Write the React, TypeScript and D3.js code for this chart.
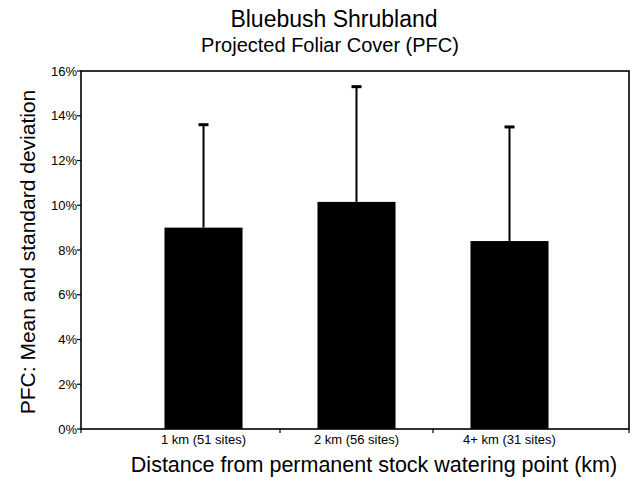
import React from "react";
import * as d3 from "d3";

const categories = ["1 km (51 sites)", "2 km (56 sites)", "4+ km (31 sites)"];
const means = [9.0, 10.15, 8.4];
const sds = [4.6, 5.15, 5.1];
const yTicks = [0, 2, 4, 6, 8, 10, 12, 14, 16];

const W = 635;
const H = 482;
const FONT = "'Liberation Sans', Arial, Helvetica, sans-serif";

export default function App() {
  const left = 81, right = 629, top = 71, bottom = 429;
  const y = d3.scaleLinear().domain([0, 16]).range([bottom, top]);
  const x = d3.scaleBand<string>().domain(categories).range([127, 586]).padding(0);
  const barW = x.bandwidth() * 0.51;
  const capW = 10;
  const boundaries = categories.slice(1).map((c) => x(c)!);

  return (
    <svg width={W} height={H} style={{ position: "absolute", left: 0, top: 0, background: "#fff" }} fontFamily={FONT}>
      <rect x={0} y={0} width={W} height={H} fill="#fff" />
      <text x={334} y={27} textAnchor="middle" fontSize={23} fill="#000">Bluebush Shrubland</text>
      <text x={330} y={52} textAnchor="middle" fontSize={20} fill="#000">Projected Foliar Cover (PFC)</text>

      {/* bars */}
      {categories.map((c, i) => {
        const cx = x(c)! + x.bandwidth() / 2;
        return (
          <g key={c}>
            <rect x={cx - barW / 2} y={y(means[i])} width={barW} height={y(0) - y(means[i])} fill="#000" />
            <line x1={cx} x2={cx} y1={y(means[i])} y2={y(means[i] + sds[i])} stroke="#000" strokeWidth={2} />
            <line x1={cx - capW / 2} x2={cx + capW / 2} y1={y(means[i] + sds[i])} y2={y(means[i] + sds[i])} stroke="#000" strokeWidth={3} />
          </g>
        );
      })}

      {/* frame */}
      <rect x={left} y={top} width={right - left} height={bottom - top} fill="none" stroke="#000" strokeWidth={1.6} />

      {/* y ticks */}
      {yTicks.map((t) => (
        <g key={t}>
          <line x1={left - 4} x2={left} y1={y(t)} y2={y(t)} stroke="#000" strokeWidth={1.2} />
          <text x={left - 4} y={y(t)} dy="0.35em" textAnchor="end" fontSize={13} fill="#000">{t}%</text>
        </g>
      ))}

      {/* x ticks at category boundaries */}
      {[left, ...boundaries, right].map((b, i) => (
        <line key={i} x1={b} x2={b} y1={bottom} y2={bottom + 4} stroke="#000" strokeWidth={1.2} />
      ))}
      {categories.map((c) => (
        <text key={c} x={x(c)! + x.bandwidth() / 2} y={444} textAnchor="middle" fontSize={13} fill="#000">{c}</text>
      ))}

      <text x={374} y={472} textAnchor="middle" fontSize={21.5} fill="#000">Distance from permanent stock watering point (km)</text>
      <text transform={`translate(35,${(top + bottom) / 2 + 2}) rotate(-90)`} textAnchor="middle" fontSize={21} fill="#000">PFC: Mean and standard deviation</text>
    </svg>
  );
}
